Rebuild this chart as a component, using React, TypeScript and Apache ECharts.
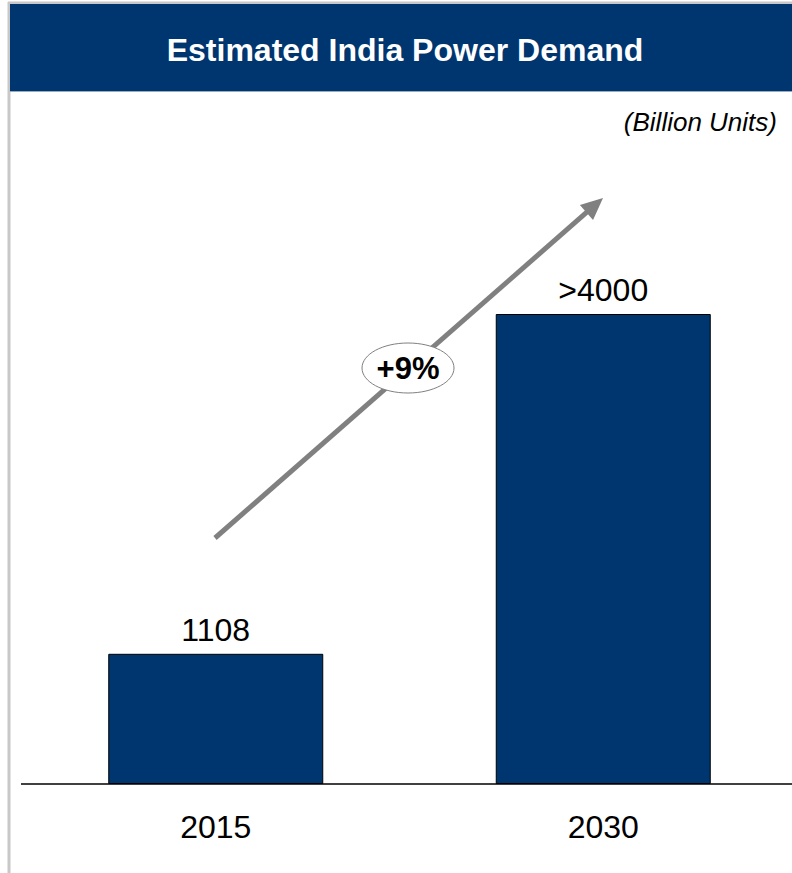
import React, { useEffect, useRef } from "react";
import * as echarts from "echarts";

const categories = ["2015", "2030"];
const values = [1108, 4000];
const valueLabels = ["1108", ">4000"];
const titleText = "Estimated India Power Demand";
const unitText = "(Billion Units)";
const cagrText = "+9%";

const NAVY = "#003670";
const GREY = "#808080";
const FONT = "Liberation Sans, Arial, sans-serif";

export default function App() {
  const ref = useRef<HTMLDivElement>(null);
  useEffect(() => {
    if (!ref.current) return;
    const chart = echarts.init(ref.current, undefined, { renderer: "svg" });
    const ux = 0.752, uy = -0.659, px = 0.659, py = 0.752;
    const tip = [603, 198];
    const hl = 22, hw = 10;
    const bx = tip[0] - hl * ux, by = tip[1] - hl * uy;
    chart.setOption({
      animation: false,
      grid: { left: 22, width: 775, top: 79, height: 784 - 79, containLabel: false },
      xAxis: {
        type: "category",
        data: categories,
        axisLine: { show: false },
        axisTick: { show: false },
        axisLabel: { color: "#000", fontSize: 32, margin: 27, fontFamily: FONT },
      },
      yAxis: { type: "value", min: 0, max: 6000, show: false, splitLine: { show: false } },
      series: [
        {
          type: "bar",
          data: values,
          barWidth: 215,
          itemStyle: { color: NAVY, borderColor: "#000", borderWidth: 1 },
          label: {
            show: true,
            position: "top",
            distance: 8,
            color: "#000",
            fontSize: 32,
            fontFamily: FONT,
            formatter: (p: any) => valueLabels[p.dataIndex],
          },
        },
      ],
      graphic: [
        { type: "line", shape: { x1: 9, y1: 2, x2: 9, y2: 873 }, style: { stroke: "#c8c8c8", lineWidth: 3 } },
        { type: "line", shape: { x1: 8, y1: 3, x2: 800, y2: 3 }, style: { stroke: "#c8c8c8", lineWidth: 3 } },
        { type: "rect", shape: { x: 10, y: 4, width: 790, height: 87 }, style: { fill: NAVY } },
        { type: "line", shape: { x1: 10, y1: 91.5, x2: 800, y2: 91.5 }, style: { stroke: "#9aaabd", lineWidth: 1 } },
        { type: "line", z: 100, shape: { x1: 21, y1: 784, x2: 800, y2: 784 }, style: { stroke: "#000", lineWidth: 1.5 } },
        {
          type: "text",
          x: 405,
          y: 50,
          style: {
            text: titleText,
            fill: "#fff",
            fontSize: 32,
            fontWeight: "bold",
            fontFamily: FONT,
            align: "center",
            verticalAlign: "middle",
          },
        },
        {
          type: "text",
          x: 777,
          y: 122,
          style: {
            text: unitText,
            fill: "#000",
            fontSize: 26,
            fontStyle: "italic",
            fontFamily: FONT,
            align: "right",
            verticalAlign: "middle",
          },
        },
        {
          type: "line",
          shape: { x1: 215, y1: 538, x2: bx + 2 * ux, y2: by + 2 * uy },
          style: { stroke: GREY, lineWidth: 5 },
        },
        {
          type: "polygon",
          shape: {
            points: [
              [tip[0], tip[1]],
              [bx + hw * px, by + hw * py],
              [bx - hw * px, by - hw * py],
            ],
          },
          style: { fill: GREY },
        },
        {
          type: "ellipse",
          shape: { cx: 408, cy: 368, rx: 46, ry: 25 },
          style: { fill: "#fff", stroke: GREY, lineWidth: 1 },
        },
        {
          type: "text",
          x: 408,
          y: 368,
          style: {
            text: cagrText,
            fill: "#000",
            fontSize: 31,
            fontWeight: "bold",
            fontFamily: FONT,
            align: "center",
            verticalAlign: "middle",
          },
        },
      ],
    });
    return () => chart.dispose();
  }, []);
  return (
    <div style={{ position: "fixed", left: 0, top: 0, width: 792, height: 873, overflow: "hidden", background: "#fff" }}>
      <div ref={ref} style={{ width: 800, height: 873 }} />
    </div>
  );
}
